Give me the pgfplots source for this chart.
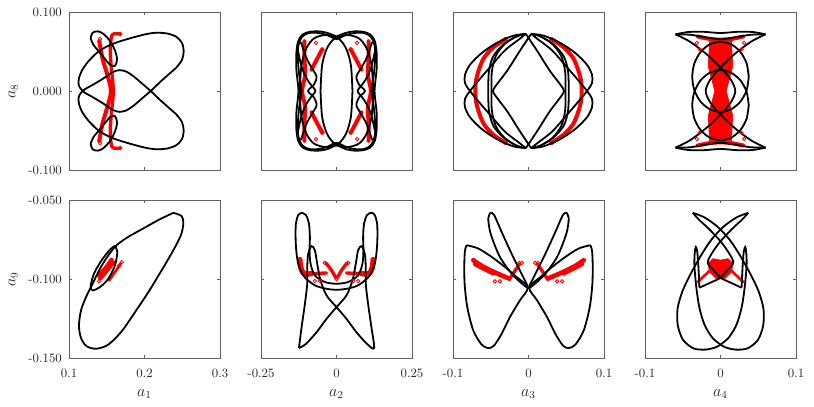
\documentclass[border=0pt]{standalone}
\usepackage{fontspec}
\usepackage{pgfplots}
\pgfplotsset{compat=1.18}

\pgfplotsset{
  panel/.style={
    scale only axis, width=113.25pt, height=118.5pt, anchor=north west,
    axis line style={draw=black!62, line width=0.6pt},
    tick style={draw=black!62, line width=0.5pt},
    tick align=inside, major tick length=2.6pt,
    tick label style={font=\fontsize{9.6}{11}\selectfont, text=black!85},
    xticklabel style={yshift=-5pt},
    yticklabel style={xshift=-1.8pt},
    label style={font=\fontsize{12}{14}\selectfont, text=black!85},
    xlabel style={at={(axis description cs:0.5,-0.23)}, anchor=center},
    ylabel style={at={(axis description cs:-0.37,0.5)}, anchor=center},
  },
  toprow/.style={ymin=-0.1, ymax=0.1, ytick={-0.1,0,0.1}, xticklabels={,,}},
  botrow/.style={ymin=-0.15, ymax=-0.05, ytick={-0.15,-0.1,-0.05}},
  noy/.style={yticklabels={,,}},
  blk/.style={black, line width=1.35pt, smooth, tension=0.5},
  rd/.style={red, line width=3pt, smooth, line cap=round, line join=round},
  rc/.style={red, only marks, mark=o, mark size=1.3pt, line width=0.6pt},
}

\begin{document}
\begin{tikzpicture}
\useasboundingbox (0,0) rectangle (610.5pt,-305.25pt);

% ---- a1 vs a8
\begin{axis}[panel, toprow, at={(51.75pt,-9pt)}, xmin=0.1, xmax=0.3,
  xtick={0.1,0.2,0.3}, yticklabels={-0.100,0.000,0.100}, ylabel={$a_8$}]
\addplot[rd] coordinates {(0.1402,0.0628)(0.1442,0.0417)(0.1508,0.0205)(0.1556,0)(0.1508,-0.0205)(0.1442,-0.0417)(0.1402,-0.0628)};
\addplot[rd, line width=2.5pt] coordinates {(0.168,0.0721)(0.157,0.0708)(0.1547,0.0501)(0.1561,0.029)(0.1587,0)(0.1561,-0.029)(0.1547,-0.0501)(0.157,-0.0708)(0.168,-0.0721)};
\addplot[rc] coordinates {(0.1402,0.0628)(0.1402,-0.0628)(0.168,0.0721)(0.168,-0.0721)(0.141,0.066)(0.141,-0.066)};
\addplot[blk] coordinates {(0.1834,0.0674)(0.1631,0.0615)(0.1477,0.0552)(0.1366,0.0480)(0.1256,0.0374)(0.1177,0.0269)(0.1132,0.0163)(0.1128,0.0078)(0.1159,0.0023)(0.1212,-0.0023)(0.1322,-0.0082)(0.1455,-0.0159)(0.1578,-0.0239)(0.1667,-0.0264)(0.1755,-0.0247)(0.1852,-0.0188)(0.1967,-0.0095)(0.2082,0)(0.2205,0.0112)(0.2329,0.0218)(0.2426,0.0302)(0.2497,0.0395)(0.2519,0.0501)(0.2497,0.0607)(0.2426,0.0683)(0.2316,0.0725)(0.2161,0.0738)(0.2007,0.0717)(0.1834,0.0674)};
\addplot[blk] coordinates {(0.1834,-0.0674)(0.1631,-0.0615)(0.1477,-0.0552)(0.1366,-0.0480)(0.1256,-0.0374)(0.1177,-0.0269)(0.1132,-0.0163)(0.1128,-0.0078)(0.1159,-0.0023)(0.1212,0.0023)(0.1322,0.0082)(0.1455,0.0159)(0.1578,0.0239)(0.1667,0.0264)(0.1755,0.0247)(0.1852,0.0188)(0.1967,0.0095)(0.2082,0)(0.2205,-0.0112)(0.2329,-0.0218)(0.2426,-0.0302)(0.2497,-0.0395)(0.2519,-0.0501)(0.2497,-0.0607)(0.2426,-0.0683)(0.2316,-0.0725)(0.2161,-0.0738)(0.2007,-0.0717)(0.1834,-0.0674)};
\addplot[blk] coordinates {(0.1287,0.0670)(0.1313,0.0738)(0.1384,0.0755)(0.1459,0.0721)(0.1547,0.0628)(0.1614,0.0501)(0.1636,0.0395)(0.1609,0.0319)(0.1543,0.0332)(0.1433,0.0459)(0.1322,0.0586)(0.1287,0.0670)};
\addplot[blk] coordinates {(0.1287,-0.0670)(0.1313,-0.0738)(0.1384,-0.0755)(0.1459,-0.0721)(0.1547,-0.0628)(0.1614,-0.0501)(0.1636,-0.0395)(0.1609,-0.0319)(0.1543,-0.0332)(0.1433,-0.0459)(0.1322,-0.0586)(0.1287,-0.0670)};
\end{axis}

% ---- a2 vs a8
\begin{axis}[panel, toprow, noy, at={(195.75pt,-9pt)}, xmin=-0.25, xmax=0.25,
  xtick={-0.25,0,0.25}]
\addplot[rd] coordinates {(-0.106,0.063)(-0.106,0.04)(-0.104,0.02)(-0.114,0)(-0.104,-0.02)(-0.106,-0.04)(-0.106,-0.063)};
\addplot[rd] coordinates {(0.106,0.063)(0.106,0.04)(0.104,0.02)(0.114,0)(0.104,-0.02)(0.106,-0.04)(0.106,-0.063)};
\addplot[rd] coordinates {(-0.047,0.053)(-0.065,0.04)(-0.083,0.027)};
\addplot[rd] coordinates {(0.047,0.053)(0.065,0.04)(0.083,0.027)};
\addplot[rd] coordinates {(-0.047,-0.053)(-0.065,-0.04)(-0.083,-0.027)};
\addplot[rd] coordinates {(0.047,-0.053)(0.065,-0.04)(0.083,-0.027)};
\addplot[rd, line width=2pt] coordinates {(-0.012,0.067)(0.012,0.067)};
\addplot[rd, line width=2pt] coordinates {(-0.012,-0.067)(0.012,-0.067)};
\addplot[rc] coordinates {(-0.068,0.061)(-0.046,0.052)(-0.068,-0.061)(-0.046,-0.052)(0.068,0.061)(0.046,0.052)(0.068,-0.061)(0.046,-0.052)};
\addplot[blk] coordinates {(0.0529,0)(0.0476,0.0329)(0.0318,0.0538)(0.0062,0.0666)(-0.0341,0.071)(-0.0744,0.0666)(-0.1,0.0538)(-0.1158,0.0329)(-0.1211,0)(-0.1158,-0.0329)(-0.1,-0.0538)(-0.0744,-0.0666)(-0.0341,-0.071)(0.0062,-0.0666)(0.0318,-0.0538)(0.0476,-0.0329)(0.0529,0)};
\addplot[blk] coordinates {(-0.0529,0)(-0.0476,0.0329)(-0.0318,0.0538)(-0.0062,0.0666)(0.0341,0.071)(0.0744,0.0666)(0.1,0.0538)(0.1158,0.0329)(0.1211,0)(0.1158,-0.0329)(0.1,-0.0538)(0.0744,-0.0666)(0.0341,-0.071)(-0.0062,-0.0666)(-0.0318,-0.0538)(-0.0476,-0.0329)(-0.0529,0)};
\addplot[blk] coordinates {(0,0.069)(-0.03,0.0735)(-0.06,0.0755)(-0.09,0.0748)(-0.112,0.0715)(-0.127,0.063)(-0.133,0.048)(-0.133,0.028)(-0.128,0.01)(-0.126,0)(-0.128,-0.01)(-0.133,-0.028)(-0.133,-0.048)(-0.127,-0.063)(-0.112,-0.0715)(-0.09,-0.0748)(-0.06,-0.0755)(-0.03,-0.0735)(0,-0.069)(0.03,-0.0735)(0.06,-0.0755)(0.09,-0.0748)(0.112,-0.0715)(0.127,-0.063)(0.133,-0.048)(0.133,-0.028)(0.128,-0.01)(0.126,0)(0.128,0.01)(0.133,0.028)(0.133,0.048)(0.127,0.063)(0.112,0.0715)(0.09,0.0748)(0.06,0.0755)(0.03,0.0735)(0,0.069)};
\addplot[blk] coordinates {(0,0.0655)(-0.03,0.0705)(-0.06,0.0735)(-0.09,0.0735)(-0.113,0.069)(-0.126,0.058)(-0.128,0.042)(-0.124,0.022)(-0.118,0.008)(-0.116,0)(-0.118,-0.008)(-0.124,-0.022)(-0.128,-0.042)(-0.126,-0.058)(-0.113,-0.069)(-0.09,-0.0735)(-0.06,-0.0735)(-0.03,-0.0705)(0,-0.0655)(0.03,-0.0705)(0.06,-0.0735)(0.09,-0.0735)(0.113,-0.069)(0.126,-0.058)(0.128,-0.042)(0.124,-0.022)(0.118,-0.008)(0.116,0)(0.118,0.008)(0.124,0.022)(0.128,0.042)(0.126,0.058)(0.113,0.069)(0.09,0.0735)(0.06,0.0735)(0.03,0.0705)(0,0.0655)};
\addplot[blk] coordinates {(-0.118,0.062)(-0.1,0.042)(-0.08,0.028)(-0.066,0.018)(-0.075,0.008)(-0.094,0)(-0.075,-0.008)(-0.066,-0.018)(-0.08,-0.028)(-0.1,-0.042)(-0.118,-0.062)};
\addplot[blk] coordinates {(-0.127,0.05)(-0.115,0.03)(-0.099,0.016)(-0.085,0.008)(-0.07,0)(-0.085,-0.008)(-0.099,-0.016)(-0.115,-0.03)(-0.127,-0.05)};
\addplot[blk] coordinates {(0.118,0.062)(0.1,0.042)(0.08,0.028)(0.066,0.018)(0.075,0.008)(0.094,0)(0.075,-0.008)(0.066,-0.018)(0.08,-0.028)(0.1,-0.042)(0.118,-0.062)};
\addplot[blk] coordinates {(0.127,0.05)(0.115,0.03)(0.099,0.016)(0.085,0.008)(0.07,0)(0.085,-0.008)(0.099,-0.016)(0.115,-0.03)(0.127,-0.05)};
\end{axis}

% ---- a3 vs a8
\begin{axis}[panel, toprow, noy, at={(339.75pt,-9pt)}, xmin=-0.1, xmax=0.1,
  xtick={-0.1,0,0.1}]
\addplot[rd] coordinates {(-0.03,0.066)(-0.047,0.055)(-0.059,0.042)(-0.066,0.026)(-0.07,0.01)(-0.07,-0.01)(-0.066,-0.026)(-0.059,-0.042)(-0.047,-0.055)(-0.03,-0.066)};
\addplot[rd] coordinates {(0.03,0.066)(0.047,0.055)(0.059,0.042)(0.066,0.026)(0.07,0.01)(0.07,-0.01)(0.066,-0.026)(0.059,-0.042)(0.047,-0.055)(0.03,-0.066)};
\addplot[blk] coordinates {(-0.0035,0.0723)(-0.0203,0.070)(-0.0423,0.0607)(-0.0621,0.048)(-0.0775,0.0332)(-0.0841,0.0205)(-0.0841,0.0099)(-0.0775,0)(-0.0643,-0.0154)(-0.0489,-0.0323)(-0.0313,-0.0514)(-0.0115,-0.0662)(-0.0035,-0.0723)};
\addplot[blk] coordinates {(-0.0035,-0.0723)(-0.0203,-0.070)(-0.0423,-0.0607)(-0.0621,-0.048)(-0.0775,-0.0332)(-0.0841,-0.0205)(-0.0841,-0.0099)(-0.0775,0)(-0.0643,0.0154)(-0.0489,0.0323)(-0.0313,0.0514)(-0.0115,0.0662)(-0.0035,0.0723)};
\addplot[blk] coordinates {(0.0035,0.0723)(0.0203,0.070)(0.0423,0.0607)(0.0621,0.048)(0.0775,0.0332)(0.0841,0.0205)(0.0841,0.0099)(0.0775,0)(0.0643,-0.0154)(0.0489,-0.0323)(0.0313,-0.0514)(0.0115,-0.0662)(0.0035,-0.0723)};
\addplot[blk] coordinates {(0.0035,-0.0723)(0.0203,-0.070)(0.0423,-0.0607)(0.0621,-0.048)(0.0775,-0.0332)(0.0841,-0.0205)(0.0841,-0.0099)(0.0775,0)(0.0643,0.0154)(0.0489,0.0323)(0.0313,0.0514)(0.0115,0.0662)(0.0035,0.0723)};
\addplot[blk] coordinates {(-0.0035,0.0723)(-0.0159,0.0691)(-0.0335,0.0586)(-0.0467,0.0438)(-0.0524,0.0248)(-0.0533,0)(-0.0524,-0.0248)(-0.0467,-0.0438)(-0.0335,-0.0586)(-0.0159,-0.0691)(-0.0035,-0.0723)};
\addplot[blk] coordinates {(-0.0035,0.0723)(-0.015,0.0695)(-0.031,0.06)(-0.043,0.045)(-0.0485,0.025)(-0.049,0)(-0.0485,-0.025)(-0.043,-0.045)(-0.031,-0.06)(-0.015,-0.0695)(-0.0035,-0.0723)};
\addplot[blk] coordinates {(0.0035,0.0723)(0.0159,0.0691)(0.0335,0.0586)(0.0467,0.0438)(0.0524,0.0248)(0.0533,0)(0.0524,-0.0248)(0.0467,-0.0438)(0.0335,-0.0586)(0.0159,-0.0691)(0.0035,-0.0723)};
\addplot[blk] coordinates {(0.0035,0.0723)(0.015,0.0695)(0.031,0.06)(0.043,0.045)(0.0485,0.025)(0.049,0)(0.0485,-0.025)(0.043,-0.045)(0.031,-0.06)(0.015,-0.0695)(0.0035,-0.0723)};
\addplot[blk] coordinates {(0.0035,0.0723)(-0.012,0.05)(-0.028,0.026)(-0.043,0.007)(-0.047,0)(-0.043,-0.007)(-0.028,-0.026)(-0.012,-0.05)(0.0035,-0.0723)};
\addplot[blk] coordinates {(-0.0035,0.0723)(0.012,0.05)(0.028,0.026)(0.043,0.007)(0.047,0)(0.043,-0.007)(0.028,-0.026)(0.012,-0.05)(-0.0035,-0.0723)};
\end{axis}

% ---- a4 vs a8
\begin{axis}[panel, toprow, noy, at={(483.75pt,-9pt)}, xmin=-0.1, xmax=0.1,
  xtick={-0.1,0,0.1}]
\addplot[red, fill=red, line width=0.5pt] coordinates {(-0.0145,0.0628)(0.0145,0.0628)(0.0162,0.0311)(0.0075,0)(0.0162,-0.0311)(0.0145,-0.0628)(-0.0145,-0.0628)(-0.0162,-0.0311)(-0.0075,0)(-0.0162,0.0311)(-0.0145,0.0628)};
\addplot[rd] coordinates {(-0.03,0.069)(-0.015,0.066)(0,0.065)(0.015,0.066)(0.03,0.069)};
\addplot[rd] coordinates {(-0.03,-0.069)(-0.015,-0.066)(0,-0.065)(0.015,-0.066)(0.03,-0.069)};
\addplot[rc] coordinates {(-0.0314,0.0607)(-0.0279,0.053)(0.0314,0.0607)(0.0279,0.053)(-0.0314,-0.0607)(-0.0279,-0.053)(0.0314,-0.0607)(0.0279,-0.053)};
\addplot[blk] coordinates {(0.0374,0.018)(0.0346,0.035)(0.0264,0.0494)(0.0143,0.059)(0,0.0624)(-0.0143,0.059)(-0.0264,0.0494)(-0.0346,0.035)(-0.0374,0.018)(-0.0346,0.001)(-0.0264,-0.0134)(-0.0143,-0.023)(0,-0.0264)(0.0143,-0.023)(0.0264,-0.0134)(0.0346,0.001)(0.0374,0.018)};
\addplot[blk] coordinates {(0.0374,-0.018)(0.0346,-0.035)(0.0264,-0.0494)(0.0143,-0.059)(0,-0.0624)(-0.0143,-0.059)(-0.0264,-0.0494)(-0.0346,-0.035)(-0.0374,-0.018)(-0.0346,-0.001)(-0.0264,0.0134)(-0.0143,0.023)(0,0.0264)(0.0143,0.023)(0.0264,0.0134)(0.0346,-0.001)(0.0374,-0.018)};
\addplot[blk] coordinates {(-0.0596,0.0717)(-0.0411,0.0628)(-0.0191,0.0471)(0.0007,0.029)(0.0138,0.0142)(0.0196,0)(0.0138,-0.0142)(0.0007,-0.029)(-0.0191,-0.0471)(-0.0411,-0.0628)(-0.0596,-0.0717)};
\addplot[blk] coordinates {(0.0596,0.0717)(0.0411,0.0628)(0.0191,0.0471)(-0.0007,0.029)(-0.0138,0.0142)(-0.0196,0)(-0.0138,-0.0142)(-0.0007,-0.029)(0.0191,-0.0471)(0.0411,-0.0628)(0.0596,-0.0717)};
\addplot[blk] coordinates {(-0.0596,0.0717)(-0.0433,0.0746)(-0.0235,0.075)(0,0.0734)(0.0235,0.075)(0.0433,0.0746)(0.0596,0.0717)};
\addplot[blk] coordinates {(-0.0596,0.0717)(-0.04,0.0712)(-0.02,0.068)(0,0.0655)(0.02,0.068)(0.04,0.0712)(0.0596,0.0717)};
\addplot[blk] coordinates {(-0.0596,-0.0717)(-0.0433,-0.0746)(-0.0235,-0.075)(0,-0.0734)(0.0235,-0.075)(0.0433,-0.0746)(0.0596,-0.0717)};
\addplot[blk] coordinates {(-0.0596,-0.0717)(-0.04,-0.0712)(-0.02,-0.068)(0,-0.0655)(0.02,-0.068)(0.04,-0.0712)(0.0596,-0.0717)};
\end{axis}

% ---- a1 vs a9
\begin{axis}[panel, botrow, at={(51.75pt,-150pt)}, xmin=0.1, xmax=0.3,
  xtick={0.1,0.2,0.3}, xticklabels={0.1,0.2,0.3},
  yticklabels={-0.150,-0.100,-0.050}, xlabel={$a_1$}, ylabel={$a_9$}]
\addplot[rd] coordinates {(0.1389,-0.0977)(0.1477,-0.0934)(0.1565,-0.0877)};
\addplot[rd] coordinates {(0.1411,-0.0998)(0.1499,-0.0949)(0.1587,-0.0894)};
\addplot[rd, line width=2pt] coordinates {(0.153,-0.1009)(0.1609,-0.0956)(0.1684,-0.0903)};
\addplot[rc] coordinates {(0.1397,-0.1015)(0.1698,-0.0894)(0.1665,-0.0915)};
\addplot[blk] coordinates {(0.2382,-0.0581)(0.2492,-0.0602)(0.2514,-0.0648)(0.2483,-0.0722)(0.2382,-0.0818)(0.2227,-0.0945)(0.2051,-0.1083)(0.1874,-0.1210)(0.1698,-0.1331)(0.1521,-0.1415)(0.1366,-0.1441)(0.1234,-0.1426)(0.1159,-0.1373)(0.1132,-0.1295)(0.1159,-0.1199)(0.1225,-0.1115)(0.1313,-0.1030)(0.1411,-0.0934)(0.1521,-0.0850)(0.1631,-0.0786)(0.1786,-0.0733)(0.1985,-0.0680)(0.2183,-0.0627)(0.2382,-0.0581)};
\addplot[blk] coordinates {(0.1609,-0.0790)(0.1640,-0.0828)(0.1609,-0.0913)(0.1521,-0.0998)(0.1411,-0.1051)(0.1313,-0.1072)(0.1287,-0.1047)(0.1331,-0.0966)(0.1433,-0.0881)(0.1543,-0.0814)(0.1609,-0.0790)};
\end{axis}

% ---- a2 vs a9
\begin{axis}[panel, botrow, noy, at={(195.75pt,-150pt)}, xmin=-0.25, xmax=0.25,
  xtick={-0.25,0,0.25}, xticklabels={-0.25,0,0.25}, xlabel={$a_2$}]
\addplot[rd, line width=4pt] coordinates {(-0.1211,-0.0877)(-0.1189,-0.0924)(-0.1079,-0.0966)(-0.0826,-0.0966)};
\addplot[rd, line width=4pt] coordinates {(0.1211,-0.0877)(0.1189,-0.0924)(0.1079,-0.0966)(0.0826,-0.0966)};
\addplot[rd, line width=2.5pt] coordinates {(-0.0826,-0.0966)(-0.033,-0.0962)};
\addplot[rd, line width=2.5pt] coordinates {(0.0826,-0.0966)(0.033,-0.0962)};
\addplot[rd, line width=2.5pt] coordinates {(-0.0352,-0.0898)(-0.0165,-0.0945)(0,-0.0992)(0.0165,-0.0945)(0.0352,-0.0898)};
\addplot[rc] coordinates {(-0.0385,-0.0898)(0.0385,-0.0898)(-0.0716,-0.1013)(-0.0551,-0.1013)(0.0551,-0.1013)(0.0716,-0.1013)(0,-0.1)};
\addplot[blk] coordinates {(-0.1244,-0.1437)(-0.1156,-0.1305)(-0.1046,-0.1157)(-0.0969,-0.1030)(-0.0969,-0.0924)(-0.0936,-0.0839)(-0.0826,-0.0792)(-0.0716,-0.0818)(-0.0639,-0.0903)(-0.0529,-0.1009)(-0.0330,-0.1104)(0,-0.1178)(0.0330,-0.1252)(0.0661,-0.1337)(0.1013,-0.1411)(0.1244,-0.1437)(0.1156,-0.1305)(0.1046,-0.1157)(0.0969,-0.1030)(0.0969,-0.0924)(0.0936,-0.0839)(0.0826,-0.0792)(0.0716,-0.0818)(0.0639,-0.0903)(0.0529,-0.1009)(0.0330,-0.1104)(0,-0.1178)(-0.0330,-0.1252)(-0.0661,-0.1337)(-0.1013,-0.1411)(-0.1244,-0.1437)};
\addplot[blk] coordinates {(-0.1156,-0.0581)(-0.1266,-0.0595)(-0.1344,-0.0648)(-0.1355,-0.0733)(-0.1333,-0.0818)(-0.1266,-0.0903)(-0.1079,-0.0983)(-0.0716,-0.1040)(-0.0330,-0.1062)(0,-0.1068)(0.0330,-0.1062)(0.0716,-0.1040)(0.1079,-0.0983)(0.1266,-0.0903)(0.1333,-0.0818)(0.1355,-0.0733)(0.1344,-0.0648)(0.1266,-0.0595)(0.1156,-0.0581)(0.1013,-0.0595)(0.0914,-0.0648)(0.0881,-0.0733)(0.0892,-0.0818)(0.0859,-0.0903)(0.0716,-0.0977)(0.0385,-0.1019)(0,-0.1030)(-0.0385,-0.1019)(-0.0716,-0.0977)(-0.0859,-0.0903)(-0.0892,-0.0818)(-0.0881,-0.0733)(-0.0914,-0.0648)(-0.1013,-0.0595)(-0.1156,-0.0581)};
\end{axis}

% ---- a3 vs a9
\begin{axis}[panel, botrow, noy, at={(339.75pt,-150pt)}, xmin=-0.1, xmax=0.1,
  xtick={-0.1,0,0.1}, xticklabels={-0.1,0,0.1}, xlabel={$a_3$}]
\addplot[rd, line width=3.5pt] coordinates {(-0.0731,-0.0881)(-0.0621,-0.0917)(-0.0489,-0.0949)(-0.0357,-0.0977)(-0.0282,-0.0992)};
\addplot[rd] coordinates {(-0.0709,-0.0907)(-0.0599,-0.0934)(-0.0467,-0.0966)};
\addplot[rd, line width=2.5pt] coordinates {(-0.0256,-0.1004)(-0.0181,-0.0949)(-0.0115,-0.0903)};
\addplot[rd, line width=3.5pt] coordinates {(0.0731,-0.0881)(0.0621,-0.0917)(0.0489,-0.0949)(0.0357,-0.0977)(0.0282,-0.0992)};
\addplot[rd] coordinates {(0.0709,-0.0907)(0.0599,-0.0934)(0.0467,-0.0966)};
\addplot[rd, line width=2.5pt] coordinates {(0.0256,-0.1004)(0.0181,-0.0949)(0.0115,-0.0903)};
\addplot[rc] coordinates {(-0.0123,-0.0898)(-0.0088,-0.0898)(-0.0445,-0.1015)(-0.0379,-0.1015)(0.0123,-0.0898)(0.0088,-0.0898)(0.0445,-0.1015)(0.0379,-0.1015)};
\addplot[blk] coordinates {(-0.0819,-0.0786)(-0.0665,-0.0807)(-0.0489,-0.0860)(-0.0313,-0.0924)(-0.0159,-0.0987)(-0.001,-0.1055)(-0.0115,-0.1136)(-0.0247,-0.1242)(-0.0357,-0.1348)(-0.0458,-0.1422)(-0.0533,-0.1437)(-0.0621,-0.1415)(-0.0731,-0.1326)(-0.0811,-0.1178)(-0.0846,-0.1030)(-0.0850,-0.0903)(-0.0841,-0.0818)(-0.0819,-0.0786)};
\addplot[blk] coordinates {(0.0819,-0.0786)(0.0665,-0.0807)(0.0489,-0.0860)(0.0313,-0.0924)(0.0159,-0.0987)(0.001,-0.1055)(0.0115,-0.1136)(0.0247,-0.1242)(0.0357,-0.1348)(0.0458,-0.1422)(0.0533,-0.1437)(0.0621,-0.1415)(0.0731,-0.1326)(0.0811,-0.1178)(0.0846,-0.1030)(0.0850,-0.0903)(0.0841,-0.0818)(0.0819,-0.0786)};
\addplot[blk] coordinates {(-0.0502,-0.0580)(-0.0455,-0.0595)(-0.0357,-0.0701)(-0.0225,-0.0839)(-0.0093,-0.0966)(-0.001,-0.1055)(-0.0203,-0.0977)(-0.0379,-0.0860)(-0.0502,-0.0712)(-0.0533,-0.0615)(-0.0502,-0.0580)};
\addplot[blk] coordinates {(0.0502,-0.0580)(0.0455,-0.0595)(0.0357,-0.0701)(0.0225,-0.0839)(0.0093,-0.0966)(0.001,-0.1055)(0.0203,-0.0977)(0.0379,-0.0860)(0.0502,-0.0712)(0.0533,-0.0615)(0.0502,-0.0580)};
\end{axis}

% ---- a4 vs a9
\begin{axis}[panel, botrow, noy, at={(483.75pt,-150pt)}, xmin=-0.1, xmax=0.1,
  xtick={-0.1,0,0.1}, xticklabels={-0.1,0,0.1}, xlabel={$a_4$}]
\addplot[red, fill=red, line width=0.5pt] coordinates {(-0.0169,-0.0903)(-0.0100,-0.0871)(0,-0.0881)(0.0100,-0.0871)(0.0169,-0.0903)(0.0142,-0.0956)(0.0055,-0.0998)(-0.0055,-0.0998)(-0.0142,-0.0956)(-0.0169,-0.0903)};
\addplot[rd, line width=2pt] coordinates {(-0.0147,-0.0949)(-0.0301,-0.1019)};
\addplot[rd, line width=2pt] coordinates {(0.0147,-0.0949)(0.0301,-0.1019)};
\addplot[blk] coordinates {(-0.0367,-0.0581)(-0.0213,-0.0610)(-0.0037,-0.0670)(0.0125,-0.0754)(0.0257,-0.0850)(0.0389,-0.0962)(0.0503,-0.1076)(0.0569,-0.1189)(0.0565,-0.1295)(0.0495,-0.1386)(0.0358,-0.1439)(0.0204,-0.1447)(0.0073,-0.1434)(0,-0.1415)(-0.0112,-0.1369)(-0.0213,-0.1288)(-0.0279,-0.1182)(-0.0318,-0.1062)(-0.0345,-0.0920)(-0.0342,-0.0839)(-0.0327,-0.0797)(-0.0305,-0.0839)(-0.0290,-0.0945)(-0.0279,-0.1055)};
\addplot[blk] coordinates {(0.0367,-0.0581)(0.0213,-0.0610)(0.0037,-0.0670)(-0.0125,-0.0754)(-0.0257,-0.0850)(-0.0389,-0.0962)(-0.0503,-0.1076)(-0.0569,-0.1189)(-0.0565,-0.1295)(-0.0495,-0.1386)(-0.0358,-0.1439)(-0.0204,-0.1447)(-0.0073,-0.1434)(0,-0.1415)(0.0112,-0.1369)(0.0213,-0.1288)(0.0279,-0.1182)(0.0318,-0.1062)(0.0345,-0.0920)(0.0342,-0.0839)(0.0327,-0.0797)(0.0305,-0.0839)(0.0290,-0.0945)(0.0279,-0.1055)};
\addplot[blk] coordinates {(-0.0367,-0.0581)(-0.0288,-0.0623)(-0.0147,-0.0686)(0.0007,-0.0765)(0.0116,-0.0839)(0.0169,-0.0898)(0.0081,-0.0949)(0,-0.0992)(-0.0147,-0.1026)(-0.0279,-0.1055)};
\addplot[blk] coordinates {(0.0367,-0.0581)(0.0288,-0.0623)(0.0147,-0.0686)(-0.0007,-0.0765)(-0.0116,-0.0839)(-0.0169,-0.0898)(-0.0081,-0.0949)(0,-0.0992)(0.0147,-0.1026)(0.0279,-0.1055)};
\end{axis}
\end{tikzpicture}
\end{document}
